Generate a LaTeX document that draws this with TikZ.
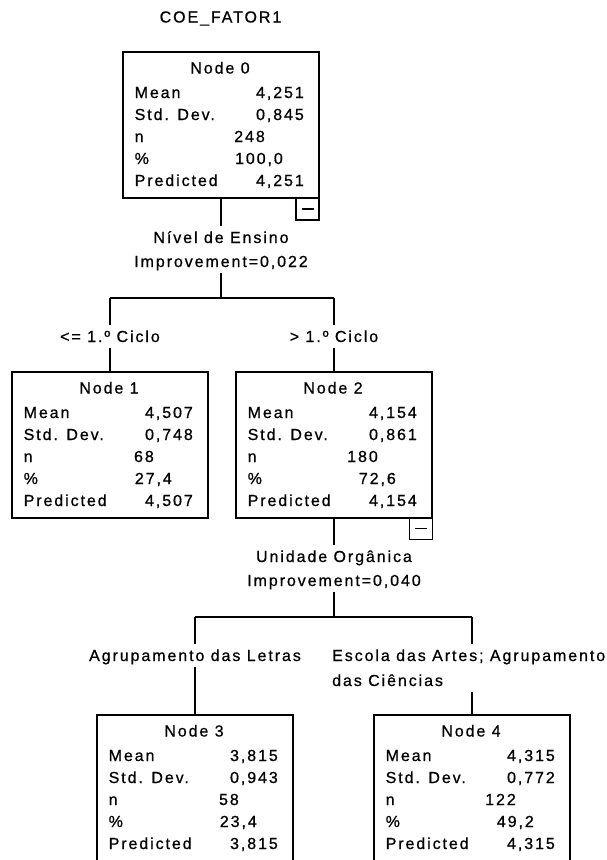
\documentclass[tikz,border=0pt]{standalone}
\usepackage{fontspec}
\setmainfont{Liberation Sans}[LetterSpace=12, FakeBold=0.7]
\begin{document}
\begin{tikzpicture}[x=1pt,y=-1pt,
  every node/.style={font=\fontsize{16}{19}\selectfont, text=black},
  line/.style={line width=1.8pt, black},
  box/.style={draw, line width=1.8pt, minimum width=196pt, minimum height=146pt, inner sep=0pt},
  txt/.style={inner sep=0pt},
  lbl/.style={inner xsep=2pt, inner ysep=5.5pt, text height=11.5pt, text depth=0.5pt},
  collapse/.style={draw, line width=1.6pt, minimum width=23pt, minimum height=22pt, inner sep=0pt},
]
% page area
\clip (0,0) rectangle (607,860);
\fill[white] (0,0) rectangle (607,860);

% statistics box: name, left x, top y, title, mean, sd, n, pct, predicted
\newcommand\statbox[9]{%
  \node[box] (#1) at ({#2+98},{#3+73}) {};
  \node[txt, anchor=base] (#1-title) at ({#2+97},{#3+21.5}) {#4};
  \node[txt, anchor=base west] (#1-l1) at ({#2+11.5},{#3+46}) {Mean};
  \node[txt, anchor=base west] (#1-l2) at ({#2+11.5},{#3+68}) {Std. Dev.};
  \node[txt, anchor=base west] (#1-l3) at ({#2+11.5},{#3+90}) {n};
  \node[txt, anchor=base west] (#1-l4) at ({#2+11.5},{#3+112}) {\%};
  \node[txt, anchor=base west] (#1-l5) at ({#2+11.5},{#3+134}) {Predicted};
  \node[txt, anchor=base east] (#1-v1) at ({#2+181},{#3+46}) {#5};
  \node[txt, anchor=base east] (#1-v2) at ({#2+181},{#3+68}) {#6};
  \node[txt, anchor=base east] (#1-v3) at ({#2+142},{#3+90}) {#7};
  \node[txt, anchor=base east] (#1-v4) at ({#2+160},{#3+112}) {#8};
  \node[txt, anchor=base east] (#1-v5) at ({#2+181},{#3+134}) {#9};
}

% title
\node[txt, anchor=base] (title) at (220.5,22.5) {COE\_FATOR1};

% tree nodes
\statbox{n0}{123}{52}{Node 0}{4,251}{0,845}{248}{100,0}{4,251}
\statbox{n1}{12}{372}{Node 1}{4,507}{0,748}{68}{27,4}{4,507}
\statbox{n2}{236}{372}{Node 2}{4,154}{0,861}{180}{72,6}{4,154}
\statbox{n3}{97}{715}{Node 3}{3,815}{0,943}{58}{23,4}{3,815}
\statbox{n4}{374}{715}{Node 4}{4,315}{0,772}{122}{49,2}{4,315}

% collapse buttons
\node[collapse] (n0c) at (307.5,209) {};
\draw[line width=1.4pt] ([xshift=-6pt]n0c.center) -- ([xshift=6pt]n0c.center);
\node[collapse] (n2c) at (421,528.5) {};
\draw[line width=1.4pt] ([xshift=-6pt]n2c.center) -- ([xshift=6pt]n2c.center);

% first split
\node[lbl, anchor=base] (s0a) at (221,243) {Nível de Ensino};
\node[lbl, anchor=base] (s0b) at (221,267) {Improvement=0,022};
\coordinate (j0) at (221,298);
\coordinate (h0l) at (110,298);
\coordinate (h0r) at (334,298);
\node[lbl, anchor=base] (c1) at (110,342) {<= 1.º Ciclo};
\node[lbl, anchor=base] (c2) at (334,342) {> 1.º Ciclo};
\draw[line] (n0) -- (s0a);
\draw[line] (s0b) -- (j0);
\draw[line] (h0l) -- (h0r);
\draw[line] (h0l) -- (c1);
\draw[line] (c1) -- (n1);
\draw[line] (h0r) -- (c2);
\draw[line] (c2) -- (n2);

% second split
\node[lbl, anchor=base] (s2a) at (334,562) {Unidade Orgânica};
\node[lbl, anchor=base] (s2b) at (334,586) {Improvement=0,040};
\coordinate (j2) at (334,617);
\coordinate (h2l) at (195,617);
\coordinate (h2r) at (472,617);
\node[lbl, anchor=base] (c3) at (195,661) {Agrupamento das Letras};
\node[lbl, anchor=base west, inner xsep=0pt] (c4a) at (332,661) {Escola das Artes; Agrupamento};
\node[lbl, anchor=base west, inner xsep=0pt] (c4b) at (332,686) {das Ciências};
\draw[line] (n2) -- (s2a);
\draw[line] (s2b) -- (j2);
\draw[line] (h2l) -- (h2r);
\draw[line] (h2l) -- (c3);
\draw[line] (c3.south -| n3) -- (n3);
\draw[line] (h2r) -- (h2r |- c4a.north);
\draw[line] (c4b.south -| n4) -- (n4);
\end{tikzpicture}
\end{document}
